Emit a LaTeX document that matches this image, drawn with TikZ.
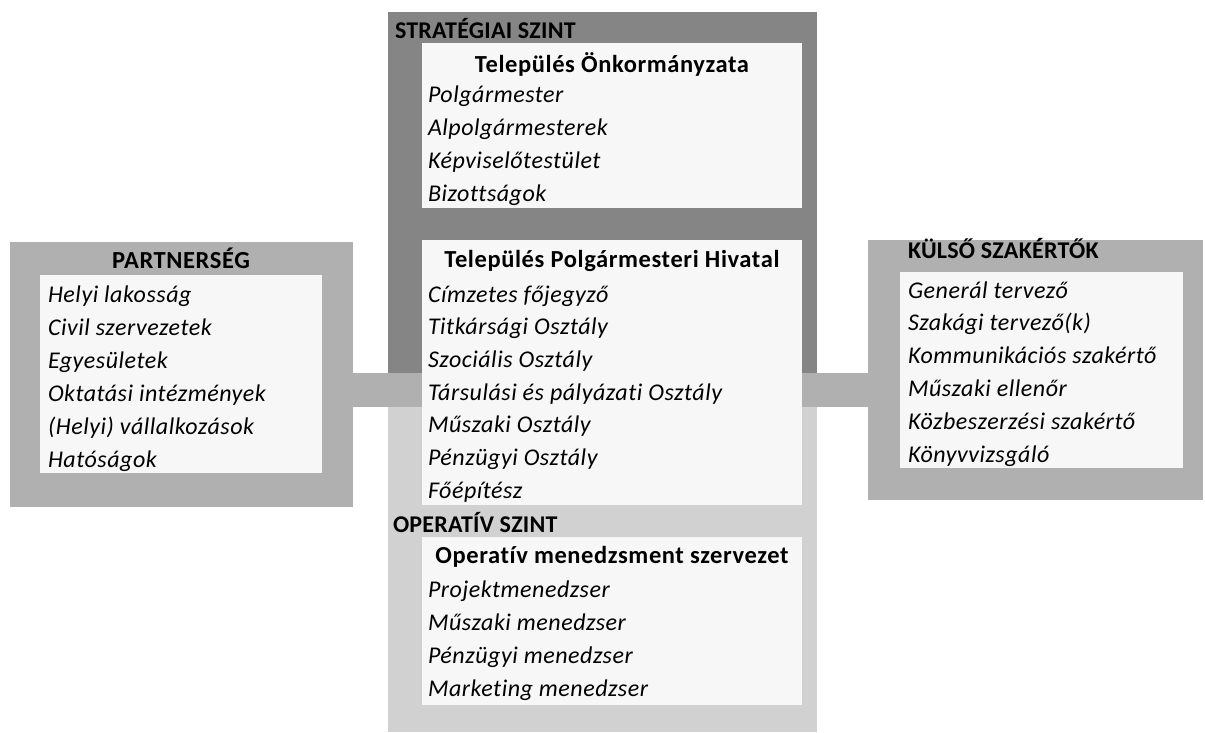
\documentclass[tikz,border=0pt]{standalone}
\usepackage{fontspec}
\setmainfont{Carlito}[Ligatures=NoCommon]
\begin{document}
\begin{tikzpicture}[x=1pt, y=-1pt, every node/.style={inner sep=0pt, outer sep=0pt}]
	\tikzset{
		panel/.style={anchor=north west, draw=none},
		inbox/.style={panel, fill=white!97!black},
		head/.style={font=\fontsize{24.5}{28}\selectfont\bfseries\addfontfeatures{LetterSpace=2.5}, anchor=base},
		level/.style={font=\fontsize{24}{28}\selectfont\bfseries\addfontfeatures{LetterSpace=1}, anchor=base west},
		item/.style={font=\fontsize{24}{28}\selectfont\itshape\addfontfeatures{LetterSpace=2.2}, anchor=base west},
		bar/.style={line width=34pt, draw=black!30}
	}
	\definecolor{darkpanel}{gray}{0.52}
	\definecolor{midpanel}{gray}{0.69}
	\definecolor{lightpanel}{gray}{0.82}
	\useasboundingbox (0,0) rectangle (1205,732);

	% 1. 外框 (最底层)
	\node[panel, fill=darkpanel, minimum width=429, minimum height=361] (strat) at (388,12) {};
	\node[panel, fill=lightpanel, minimum width=429, minimum height=325] (oper) at (388,407) {};
	\node[panel, fill=midpanel, minimum width=343, minimum height=265] (partner) at (10,242) {};
	\node[panel, fill=midpanel, minimum width=335, minimum height=260] (ext) at (868,240) {};

	% 连接条
	\draw[bar, draw=midpanel] (partner.east |- 0,390) -- (ext.west |- 0,390);

	% 2. 白色内框
	\node[inbox, minimum width=380, minimum height=165] (onk) at (422,43) {};
	\node[inbox, minimum width=380, minimum height=265] (hiv) at (422,240) {};
	\node[inbox, minimum width=380, minimum height=168] (men) at (422,537) {};
	\node[inbox, minimum width=282, minimum height=198] (partnerin) at (40,275) {};
	\node[inbox, minimum width=283, minimum height=196] (extin) at (900,272) {};

	% 3. 标题
	\node[level] (stratlbl) at (395,38) {STRATÉGIAI SZINT};
	\node[level] (operlbl) at (393,532) {OPERATÍV SZINT};
	\node[head] (onklbl) at (612,72) {Település Önkormányzata};
	\node[head] (hivlbl) at (612,267) {Település Polgármesteri Hivatal};
	\node[head] (menlbl) at (612,563) {Operatív menedzsment szervezet};
	\node[head] (partnerlbl) at (181,268) {PARTNERSÉG};
	\node[level] (extlbl) at (908,258) {KÜLSŐ SZAKÉRTŐK};

	% 4. 列表
	\foreach \t [count=\i] in {Polgármester, Alpolgármesterek, Képviselőtestület, Bizottságok}
		\node[item] (onk\i) at (428,{102+33*(\i-1)}) {\t};
	\foreach \t [count=\i] in {Címzetes főjegyző, Titkársági Osztály, Szociális Osztály,
			Társulási és pályázati Osztály, Műszaki Osztály, Pénzügyi Osztály, Főépítész}
		\node[item] (hiv\i) at (428,{302+32.7*(\i-1)}) {\t};
	\foreach \t [count=\i] in {Projektmenedzser, Műszaki menedzser, Pénzügyi menedzser, Marketing menedzser}
		\node[item] (men\i) at (428,{597+33.3*(\i-1)}) {\t};
	\foreach \t [count=\i] in {Helyi lakosság, Civil szervezetek, Egyesületek, Oktatási intézmények,
			(Helyi) vállalkozások, Hatóságok}
		\node[item] (partner\i) at (48,{302+33*(\i-1)}) {\t};
	\foreach \t [count=\i] in {Generál tervező, Szakági tervező(k), Kommunikációs szakértő,
			Műszaki ellenőr, Közbeszerzési szakértő, Könyvvizsgáló}
		\node[item] (ext\i) at (908,{298+32.8*(\i-1)}) {\t};
\end{tikzpicture}
\end{document}
